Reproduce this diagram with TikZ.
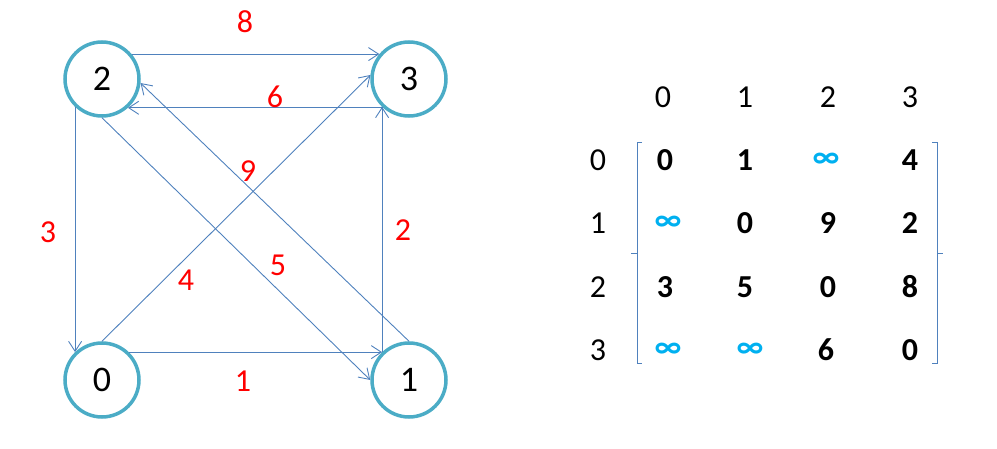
\documentclass[tikz,border=0pt]{standalone}
\usepackage{fontspec}
\setmainfont{Carlito}
\usepackage{xcolor}
\usepackage{tikz}
\usetikzlibrary{arrows.meta,positioning}

\definecolor{ringteal}{HTML}{4BACC6}
\definecolor{edgeblue}{HTML}{4F81BD}
\definecolor{infcyan}{HTML}{00B0F0}
\newcommand{\inftyb}{\textcolor{infcyan}{\textbf{∞}}}

\begin{document}
\begin{tikzpicture}[x=1pt,y=-1pt,>={Straight Barb[length=10pt,width=13pt]},
  vert/.style={circle,draw=ringteal,line width=3.5pt,minimum size=74pt,inner sep=0pt,
    font=\fontsize{36}{40}\selectfont},
  arc/.style={->,draw=edgeblue,line width=.9pt},
  wt/.style={text=red,font=\fontsize{32}{36}\selectfont,inner sep=0pt},
  idx/.style={font=\fontsize{32}{36}\selectfont,inner sep=0pt},
  ent/.style={font=\fontsize{32}{36}\selectfont\bfseries,inner sep=0pt},
  brk/.style={draw=edgeblue,line width=.9pt}]
\useasboundingbox (0,0) rectangle (997,449);
% graph
\node[vert] (v2) at (102,79) {2};
\node[vert] (v3) at (409,79) {3};
\node[vert] (v0) at (102,380) {0};
\node[vert] (v1) at (409,380) {1};
\draw[arc] (v2.40) -- (v3.140);
\draw[arc] (v3.-132) -- (v2.-48);
\draw[arc] (v2.-134) -- (v0.134);
\draw[arc] (v0.46) -- (v1.134);
\draw[arc] (v1.134) -- (v3.-134);
\draw[arc] (v0.90) -- (v3.174);
\draw[arc] (v2.-90) -- (v1.180);
\draw[arc] (v1.90) -- (v2.-6);
\node[wt] (w8) at (245,22) {8};
\node[wt] (w6) at (275,97) {6};
\node[wt] (w9) at (248,171) {9};
\node[wt] (w3) at (48,232) {3};
\node[wt] (w2) at (403,230) {2};
\node[wt] (w4) at (186,280) {4};
\node[wt] (w5) at (278,265) {5};
\node[wt] (w1) at (243,381) {1};
% adjacency matrix
\node[idx] (c0) at (663,97) {0};
\node[idx] (c1) at (745,97) {1};
\node[idx] (c2) at (828,97) {2};
\node[idx] (c3) at (910,97) {3};
\node[idx] (r0) at (598,160) {0};
\node[idx] (r1) at (598,223) {1};
\node[idx] (r2) at (598,287) {2};
\node[idx] (r3) at (598,350) {3};
\node[ent] (m00) at (665,160) {0};
\node[ent] (m01) at (745,160) {1};
\node[ent] (m02) at (826,160) {\inftyb};
\node[ent] (m03) at (910,160) {4};
\node[ent] (m10) at (668,223) {\inftyb};
\node[ent] (m11) at (745,223) {0};
\node[ent] (m12) at (828,223) {9};
\node[ent] (m13) at (910,223) {2};
\node[ent] (m20) at (665,287) {3};
\node[ent] (m21) at (745,287) {5};
\node[ent] (m22) at (828,287) {0};
\node[ent] (m23) at (910,287) {8};
\node[ent] (m30) at (668,350) {\inftyb};
\node[ent] (m31) at (750,350) {\inftyb};
\node[ent] (m32) at (826,350) {6};
\node[ent] (m33) at (910,350) {0};
\draw[brk] (642,142) -- (637,142) -- (637,253) -- (631,253) (637,253) -- (637,363) -- (642,363);
\draw[brk] (932,142) -- (937,142) -- (937,253) -- (943,253) (937,253) -- (937,363) -- (932,363);
\end{tikzpicture}
\end{document}
